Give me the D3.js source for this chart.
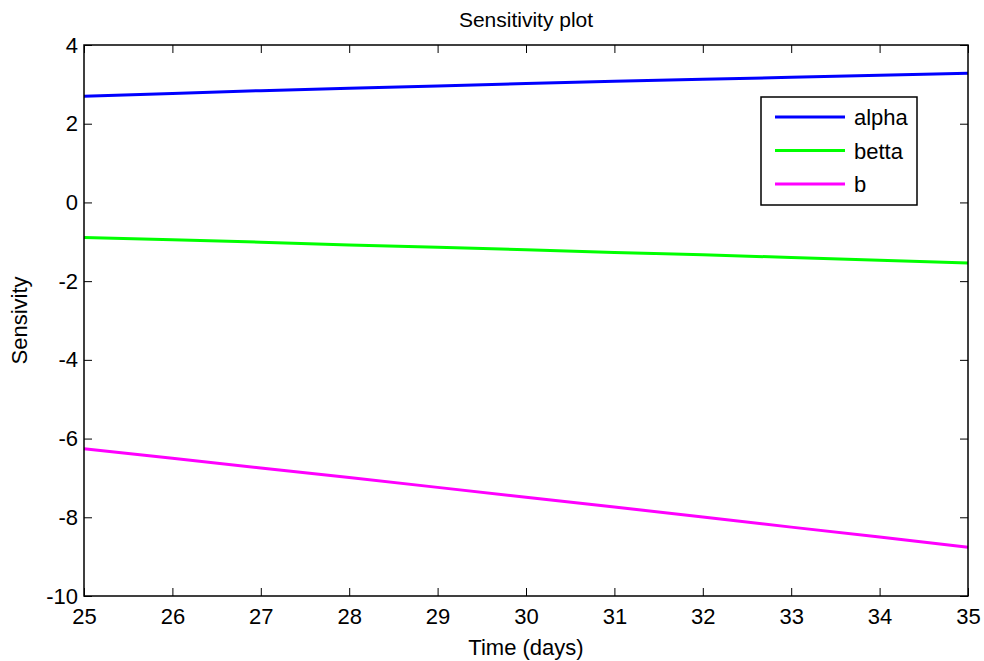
<!DOCTYPE html>
<html>
<head>
<meta charset="utf-8">
<script src="https://cdn.jsdelivr.net/npm/d3@7"></script>
<style>
  html, body { margin: 0; padding: 0; background: #fff; }
  text { font-family: "Liberation Sans", Arial, sans-serif; fill: #000; }
</style>
</head>
<body>
<svg id="chart" width="984" height="661"></svg>
<script>
// Sensitivity of the model output to each parameter over time
const days = [25, 26, 27, 28, 29, 30, 31, 32, 33, 34, 35];
const alpha = [2.70, 2.77, 2.84, 2.90, 2.96, 3.02, 3.08, 3.13, 3.18, 3.23, 3.28];
const betta = [-0.89, -0.95, -1.01, -1.08, -1.14, -1.20, -1.27, -1.33, -1.40, -1.47, -1.54];
const bSens = [-6.26, -6.50, -6.75, -6.99, -7.24, -7.49, -7.74, -7.99, -8.25, -8.50, -8.76];

const xTicks = [25, 26, 27, 28, 29, 30, 31, 32, 33, 34, 35];
const yTicks = [-10, -8, -6, -4, -2, 0, 2, 4];

const seriesNames = ["alpha", "betta", "b"];
const seriesColors = ["#0000ff", "#00ff00", "#ff00ff"];
const seriesValues = [alpha, betta, bSens];

const svg = d3.select("#chart");
const margin = { left: 84, right: 16, top: 45, bottom: 65 };
const W = 984, H = 661;

const x = d3.scaleLinear().domain([25, 35]).range([margin.left, W - margin.right]);
const y = d3.scaleLinear().domain([-10, 4]).range([H - margin.bottom, margin.top]);

const tickLen = 8;
const fontSize = 22;
const plain = d => String(d);   // plain hyphen-minus for negatives

// Data lines
const line = d3.line().x((d, i) => x(days[i])).y(d => y(d));
seriesValues.forEach((vals, k) => {
  svg.append("path")
    .datum(vals)
    .attr("d", line)
    .attr("fill", "none")
    .attr("stroke", seriesColors[k])
    .attr("stroke-width", 3);
});

// Axes: ticks pointing inward on all four sides, box drawn separately
const bottomAxis = d3.axisBottom(x).tickValues(xTicks).tickFormat(plain).tickSizeInner(-tickLen).tickSizeOuter(0).tickPadding(12);
const topAxis = d3.axisTop(x).tickValues(xTicks).tickSizeInner(-tickLen).tickSizeOuter(0).tickFormat("");
const leftAxis = d3.axisLeft(y).tickValues(yTicks).tickFormat(plain).tickSizeInner(-tickLen).tickSizeOuter(0).tickPadding(6);
const rightAxis = d3.axisRight(y).tickValues(yTicks).tickSizeInner(-tickLen).tickSizeOuter(0).tickFormat("");

function styleAxis(g) {
  g.select(".domain").remove();
  g.selectAll(".tick line").attr("stroke", "#000").attr("stroke-width", 1);
  g.selectAll(".tick text")
    .style("font-family", '"Liberation Sans", Arial, sans-serif')
    .style("font-size", fontSize + "px")
    .attr("fill", "#000");
}

svg.append("g").attr("transform", `translate(0,${y(-10)})`).call(bottomAxis).call(styleAxis);
svg.append("g").attr("transform", `translate(0,${y(4)})`).call(topAxis).call(styleAxis);
svg.append("g").attr("transform", `translate(${x(25)},0)`).call(leftAxis).call(styleAxis);
svg.append("g").attr("transform", `translate(${x(35)},0)`).call(rightAxis).call(styleAxis);

svg.append("rect")
  .attr("x", x(25)).attr("y", y(4))
  .attr("width", x(35) - x(25)).attr("height", y(-10) - y(4))
  .attr("fill", "none").attr("stroke", "#000").attr("stroke-width", 1.5);

// Title and axis labels
svg.append("text")
  .attr("x", (x(25) + x(35)) / 2).attr("y", 27)
  .attr("text-anchor", "middle").style("font-size", "21px")
  .text("Sensitivity plot");

svg.append("text")
  .attr("x", (x(25) + x(35)) / 2).attr("y", 655)
  .attr("text-anchor", "middle").style("font-size", fontSize + "px")
  .text("Time (days)");

svg.append("text")
  .attr("transform", `translate(27,${(y(4) + y(-10)) / 2}) rotate(-90)`)
  .attr("text-anchor", "middle").style("font-size", fontSize + "px")
  .text("Sensivity");

// Legend
const legend = svg.append("g").attr("transform", "translate(761,97)");
legend.append("rect")
  .attr("width", 156).attr("height", 108)
  .attr("fill", "#fff").attr("stroke", "#000").attr("stroke-width", 1.5);
seriesNames.forEach((name, k) => {
  const ly = 20 + k * 33.5;
  legend.append("line")
    .attr("x1", 14).attr("x2", 84).attr("y1", ly).attr("y2", ly)
    .attr("stroke", seriesColors[k]).attr("stroke-width", 3);
  legend.append("text")
    .attr("x", 93).attr("y", ly + 8)
    .style("font-size", fontSize + "px")
    .text(name);
});
</script>
</body>
</html>
